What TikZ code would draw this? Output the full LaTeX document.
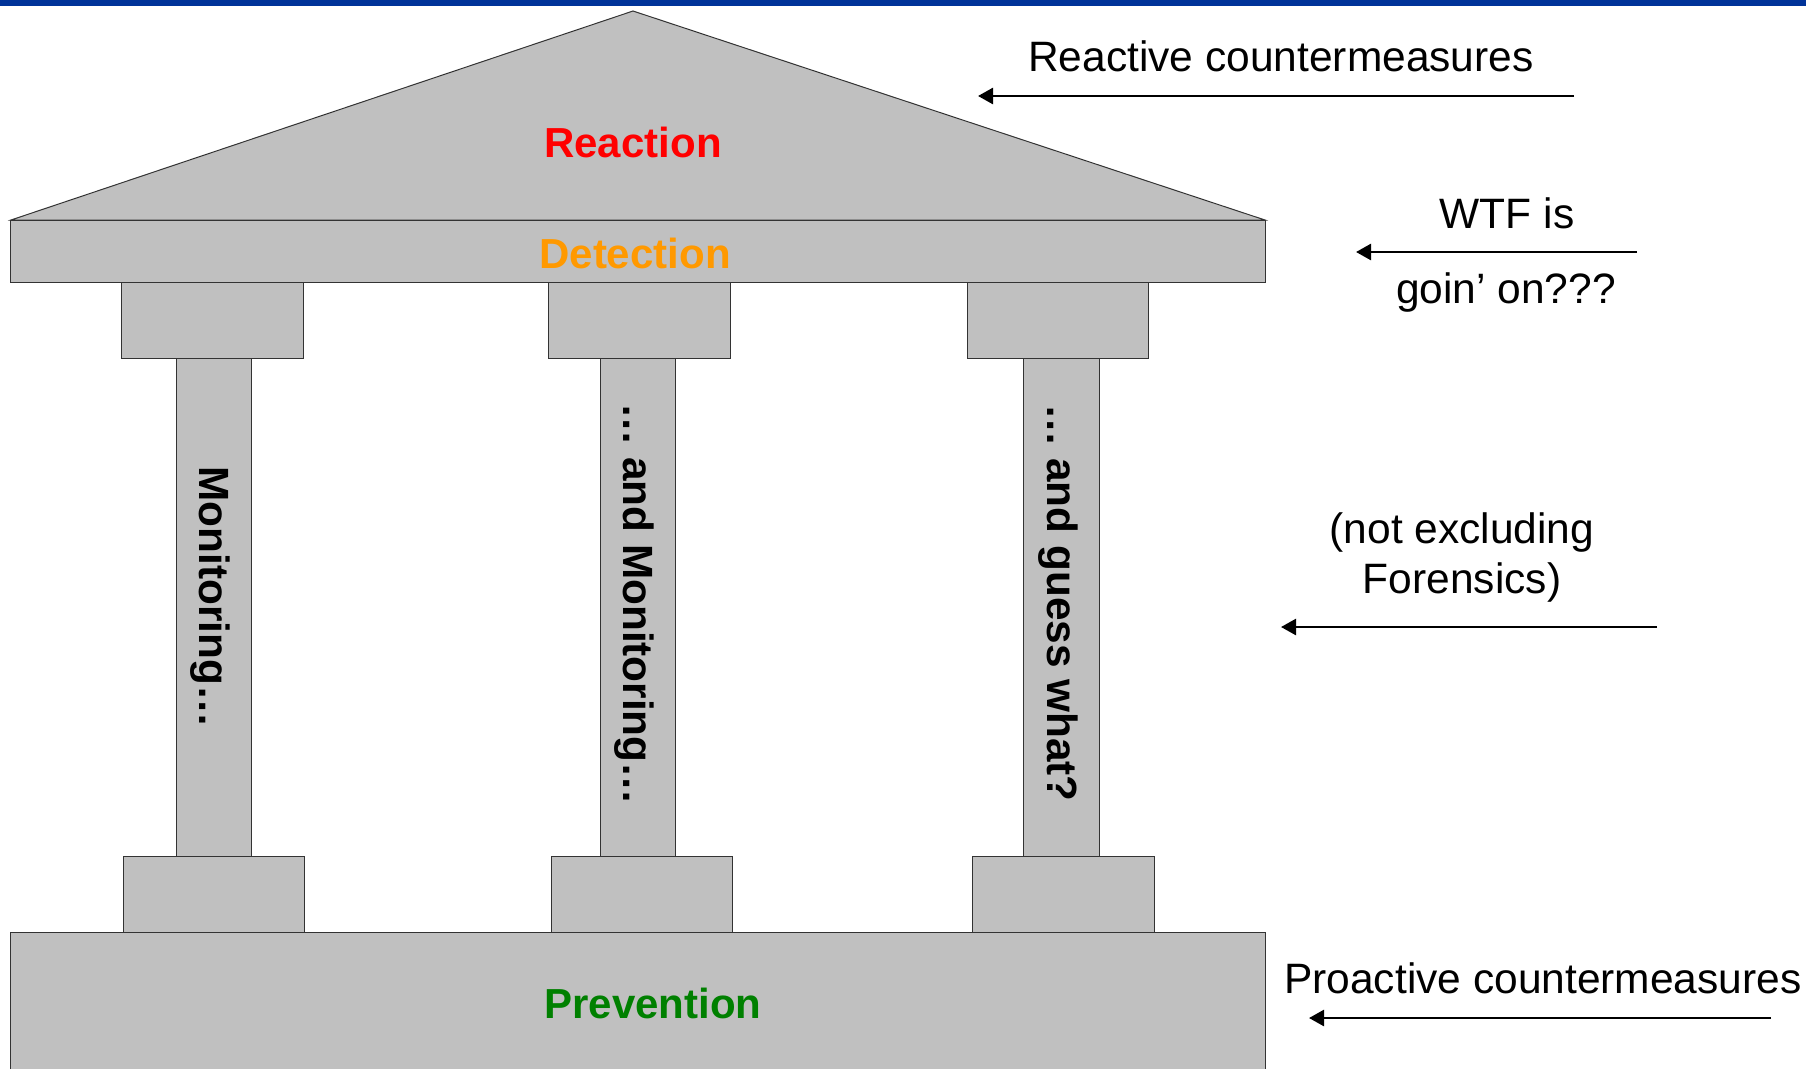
\documentclass[tikz,border=0pt]{standalone}
\usepackage{fontspec}
\setmainfont{Liberation Sans}
\usetikzlibrary{arrows.meta}
\definecolor{stone}{HTML}{C0C0C0}
\definecolor{topblue}{HTML}{003399}
\definecolor{reactred}{HTML}{FF0000}
\definecolor{detorange}{HTML}{FF9900}
\definecolor{prevgreen}{HTML}{008000}
\begin{document}
\begin{tikzpicture}[x=1pt,y=-1pt,
  block/.style={fill=stone,draw=black!80,line width=1pt},
  big/.style={font=\fontsize{42}{50}\selectfont\bfseries,anchor=base,inner sep=0pt},
  side/.style={font=\fontsize{42.5}{50}\selectfont,anchor=base,inner sep=0pt},
  pillartext/.style={font=\fontsize{42.3}{50}\selectfont\bfseries,rotate=-90,anchor=base,inner sep=0pt},
  pointer/.style={line width=2.6pt,-{Triangle[length=15pt,width=16pt]}}
]
\useasboundingbox (0,0) rectangle (1806,1069);
\fill[topblue] (0,0) rectangle (1806,6);
% roof
\draw[block] (11,220) -- (633,11) -- (1265,220) -- cycle;
% entablature
\draw[block] (10,220) rectangle (1265,282);
% capitals
\draw[block] (121,282) rectangle (303,358);
\draw[block] (548,282) rectangle (730,358);
\draw[block] (967,282) rectangle (1148,358);
% columns
\draw[block] (176,358) rectangle (251,856);
\draw[block] (600,358) rectangle (675,856);
\draw[block] (1023,358) rectangle (1099,856);
% bases
\draw[block] (123,856) rectangle (304,932);
\draw[block] (551,856) rectangle (732,932);
\draw[block] (972,856) rectangle (1154,932);
% foundation
\fill[stone] (10,932) rectangle (1265,1069);
\draw[black!80,line width=1pt] (10,1069) -- (10,932) -- (1265,932) -- (1265,1069);
% labels
\node[big,text=reactred] (reaction) at (633,157) {Reaction};
\node[big,text=detorange] (detection) at (635,268) {Detection};
\node[big,text=prevgreen] (prevention) at (653,1018) {Prevention};
\node[pillartext] (p1) at (199,597) {Monitoring…};
\node[pillartext] (p2) at (623,604) {… and Monitoring…};
\node[pillartext] (p3) at (1047,603) {… and guess what?};
% side notes
\node[side,anchor=base west] (reactive) at (1028,71) {Reactive countermeasures};
\node[side] (wtf) at (1507,228) {WTF is};
\node[side] (goin) at (1506,303) {goin’ on???};
\node[side] (notex) at (1462,543) {(not excluding};
\node[side] (foren) at (1462,593) {Forensics)};
\node[side,anchor=base west] (proactive) at (1284,993) {Proactive countermeasures};
% arrows
\coordinate (a1s) at (1574,96);   \coordinate (a1e) at (978,96);
\coordinate (a2s) at (1637,252);  \coordinate (a2e) at (1356,252);
\coordinate (a3s) at (1657,627);  \coordinate (a3e) at (1281,627);
\coordinate (a4s) at (1771,1018); \coordinate (a4e) at (1309,1018);
\draw[pointer] (a1s) -- (a1e);
\draw[pointer] (a2s) -- (a2e);
\draw[pointer] (a3s) -- (a3e);
\draw[pointer] (a4s) -- (a4e);
\end{tikzpicture}
\end{document}
